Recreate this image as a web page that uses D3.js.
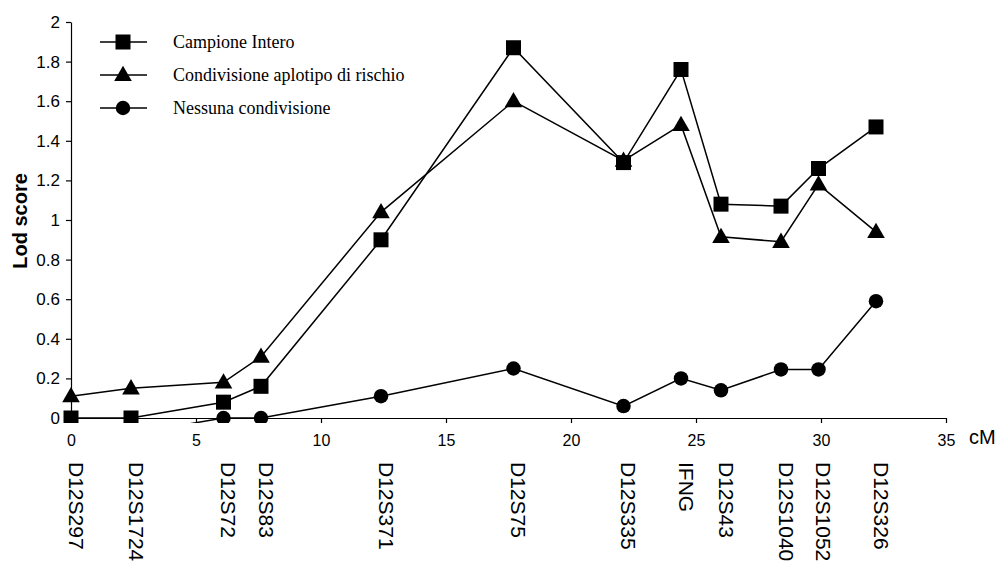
<!DOCTYPE html>
<html>
<head>
<meta charset="utf-8">
<script src="https://cdn.jsdelivr.net/npm/d3@7"></script>
<style>
  body { margin: 0; background: #fff; }
  svg { display: block; }
</style>
</head>
<body>
<div id="canvas"></div>
<script>
// markers and their position in cM
const markers = ["D12S297", "D12S1724", "D12S72", "D12S83", "D12S371", "D12S75",
                 "D12S335", "IFNG", "D12S43", "D12S1040", "D12S1052", "D12S326"];
const cM = [0, 2.4, 6.1, 7.6, 12.4, 17.7, 22.1, 24.4, 26.0, 28.4, 29.9, 32.2];

// lod scores
const campioneIntero = [0, 0, 0.08, 0.16, 0.90, 1.87, 1.29, 1.76, 1.08, 1.07, 1.26, 1.47];
const condivisione   = [0.11, 0.15, 0.18, 0.31, 1.04, 1.60, 1.30, 1.48, 0.915, 0.89, 1.18, 0.94];
const nessuna        = [-0.10, -0.08, 0, 0, 0.11, 0.25, 0.06, 0.20, 0.14, 0.245, 0.245, 0.59];

const seriesNames = ["Campione Intero", "Condivisione aplotipo di rischio", "Nessuna condivisione"];
const seriesShapes = ["square", "triangle", "circle"];
const xTicks = [0, 5, 10, 15, 20, 25, 30, 35];
const yTicks = [0, 0.2, 0.4, 0.6, 0.8, 1, 1.2, 1.4, 1.6, 1.8, 2];

const width = 1003;
const height = 563;

const svg = d3.select("#canvas").append("svg")
    .attr("width", width)
    .attr("height", height);

const x = d3.scaleLinear().domain([0, 35]).range([71, 946]);
const y = d3.scaleLinear().domain([0, 2]).range([418, 22]);

// x axis
svg.append("g")
    .attr("class", "x-axis")
    .attr("transform", `translate(0, ${y(0)})`)
    .call(d3.axisBottom(x).tickValues(xTicks).tickSize(5).tickSizeOuter(0).tickPadding(12)
        .tickFormat(d3.format("d")));

// y axis
svg.append("g")
    .attr("class", "y-axis")
    .attr("transform", `translate(${x(0)}, 0)`)
    .call(d3.axisLeft(y).tickValues(yTicks).tickSize(5).tickSizeOuter(0).tickPadding(6)
        .tickFormat(d => d3.format("~g")(d)));

svg.selectAll(".domain, .tick line")
    .attr("stroke", "#000")
    .attr("stroke-width", 1.2);
svg.selectAll(".tick text")
    .attr("fill", "#000")
    .style("font-family", "'Liberation Sans', Arial, sans-serif")
    .style("font-size", "16px");
svg.selectAll(".y-axis .tick text")
    .style("font-size", "17px");

svg.append("text")
    .attr("x", 969)
    .attr("y", 444)
    .style("font-family", "'Liberation Sans', Arial, sans-serif")
    .style("font-size", "20px")
    .text("cM");

svg.append("text")
    .attr("transform", `translate(20, 221) rotate(-90)`)
    .attr("text-anchor", "middle")
    .attr("dominant-baseline", "central")
    .style("font-family", "'Liberation Sans', Arial, sans-serif")
    .style("font-size", "20px")
    .style("font-weight", "bold")
    .text("Lod score");

// marker names, rotated under the axis
svg.append("g").selectAll("text")
    .data(markers)
    .enter()
    .append("text")
    .attr("transform", (d, i) => `translate(${x(cM[i]) + 5}, 462) rotate(90)`)
    .attr("dominant-baseline", "central")
    .style("font-family", "'Liberation Sans', Arial, sans-serif")
    .style("font-size", "21px")
    .text(d => d);

// plot, clipped a little below the axis like the original
svg.append("clipPath").attr("id", "plotclip")
    .append("rect")
    .attr("x", 0).attr("y", 0)
    .attr("width", width).attr("height", y(0) + 5);

const plot = svg.append("g").attr("clip-path", "url(#plotclip)");

const symbolFor = {
    square: d3.symbol().type(d3.symbolSquare).size(225),
    triangle: d3.symbol().type(d3.symbolTriangle).size(135),
    circle: d3.symbol().type(d3.symbolCircle).size(165)
};

const allSeries = [campioneIntero, condivisione, nessuna];

const line = d3.line()
    .x((d, i) => x(cM[i]))
    .y(d => y(d));

allSeries.forEach((vals, s) => {
    plot.append("path")
        .datum(vals)
        .attr("fill", "none")
        .attr("stroke", "#000")
        .attr("stroke-width", 1.5)
        .attr("d", line);

    plot.append("g").selectAll("path")
        .data(vals)
        .enter()
        .append("path")
        .attr("transform", (d, i) => `translate(${x(cM[i])}, ${y(d) + (seriesShapes[s] === "triangle" ? 1 : 0)})`)
        .attr("d", symbolFor[seriesShapes[s]]())
        .attr("fill", "#000");
});

// legend
const legend = svg.append("g");
const legendY = [42, 75, 108];
seriesNames.forEach((name, s) => {
    const row = legend.append("g").attr("transform", `translate(0, ${legendY[s]})`);
    row.append("line")
        .attr("x1", 100).attr("x2", 147)
        .attr("y1", 0).attr("y2", 0)
        .attr("stroke", "#000")
        .attr("stroke-width", 1.5);
    row.append("path")
        .attr("transform", `translate(123, ${seriesShapes[s] === "triangle" ? 1 : 0})`)
        .attr("d", symbolFor[seriesShapes[s]]())
        .attr("fill", "#000");
    row.append("text")
        .attr("x", 173)
        .attr("y", 0)
        .attr("dominant-baseline", "central")
        .style("font-family", "'Liberation Serif', 'Times New Roman', serif")
        .style("font-size", "18px")
        .text(name);
});
</script>
</body>
</html>
